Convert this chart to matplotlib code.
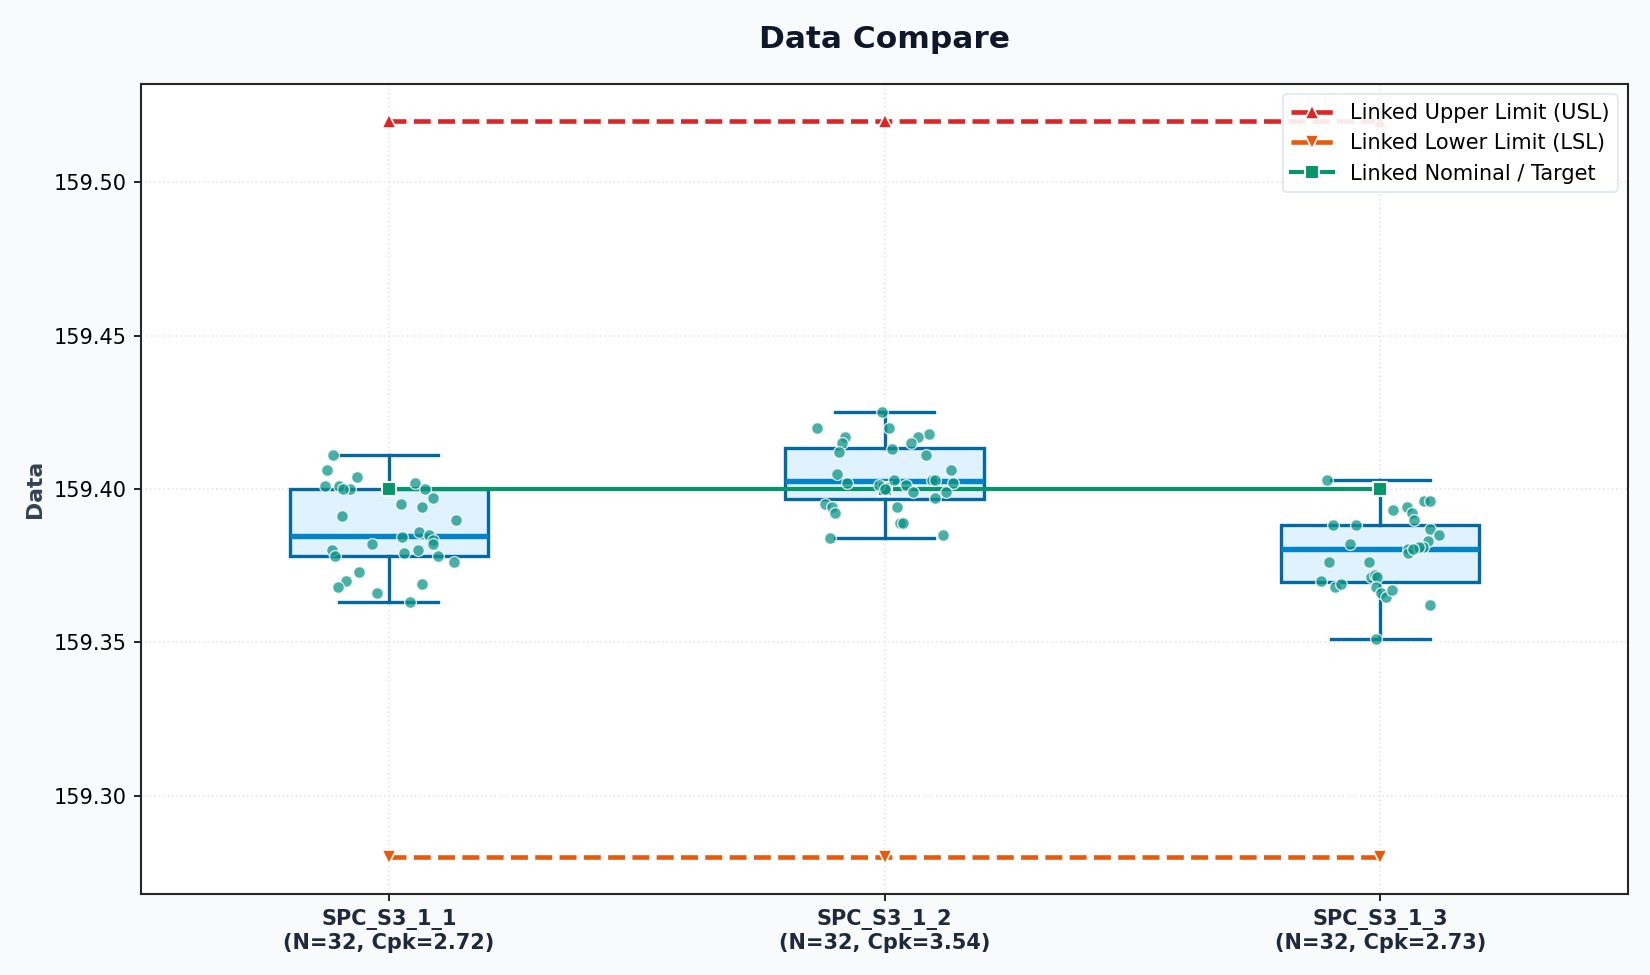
import matplotlib
matplotlib.use("Agg")
import matplotlib.pyplot as plt
import numpy as np

# group names and capability numbers shown under each box
groups = ["SPC_S3_1_1", "SPC_S3_1_2", "SPC_S3_1_3"]
cpk = [2.72, 3.54, 2.73]

usl = [159.52, 159.52, 159.52]
lsl = [159.28, 159.28, 159.28]
nominal = [159.40, 159.40, 159.40]

vals_1 = [159.4111, 159.4061, 159.4038, 159.4010, 159.4010, 159.3999, 159.4000, 159.4021,
          159.4000, 159.3971, 159.3951, 159.3941, 159.3911, 159.3899, 159.3860, 159.3850,
          159.3842, 159.3834, 159.3821, 159.3821, 159.3801, 159.3782, 159.3792, 159.3800,
          159.3782, 159.3762, 159.3729, 159.3700, 159.3680, 159.3691, 159.3661, 159.3632]
jit_1 = [-0.113, -0.125, -0.064, -0.129, -0.100, -0.078, -0.092, 0.053,
         0.073, 0.088, 0.025, 0.067, -0.094, 0.136, 0.061, 0.080,
         0.027, 0.088, 0.088, -0.034, -0.115, -0.108, 0.031, 0.059,
         0.100, 0.132, -0.060, -0.086, -0.103, 0.067, -0.024, 0.043]

vals_2 = [159.4250, 159.4199, 159.4199, 159.4169, 159.4150, 159.4120, 159.4179, 159.4169,
          159.4150, 159.4130, 159.4111, 159.4062, 159.4048, 159.4021, 159.4031, 159.4013,
          159.4000, 159.4012, 159.4029, 159.4029, 159.4021, 159.3990, 159.3990, 159.3971,
          159.3951, 159.3940, 159.3923, 159.3942, 159.3889, 159.3889, 159.3840, 159.3849]
jit_2 = [-0.005, -0.137, 0.009, -0.080, -0.086, -0.092, 0.089, 0.067,
         0.053, 0.016, 0.083, 0.134, -0.096, -0.075, 0.019, -0.012,
         0.000, 0.043, 0.095, 0.102, 0.138, 0.057, 0.123, 0.101,
         -0.121, -0.106, -0.099, 0.026, 0.031, 0.038, -0.111, 0.118]

vals_3 = [159.4029, 159.3961, 159.3961, 159.3931, 159.3941, 159.3921, 159.3898, 159.3883,
          159.3883, 159.3869, 159.3849, 159.3832, 159.3812, 159.3812, 159.3805, 159.3793,
          159.3806, 159.3820, 159.3761, 159.3761, 159.3700, 159.3682, 159.3690, 159.3713,
          159.3720, 159.3713, 159.3682, 159.3662, 159.3649, 159.3671, 159.3622, 159.3511]
jit_3 = [-0.107, 0.088, 0.101, 0.026, 0.054, 0.065, 0.068, -0.095,
         -0.049, 0.101, 0.118, 0.097, 0.086, 0.078, 0.056, 0.056,
         0.066, -0.061, -0.103, -0.023, -0.120, -0.092, -0.079, -0.019,
         -0.011, -0.006, -0.009, 0.001, 0.011, 0.023, 0.101, -0.008]

all_vals = [vals_1, vals_2, vals_3]
all_jit = [jit_1, jit_2, jit_3]
pos = np.arange(len(groups))

fig = plt.figure(figsize=(11, 6.5), dpi=150, facecolor="#f8fafc")
ax = fig.add_axes([0.0855, 0.0831, 0.9012, 0.8307])
ax.set_facecolor("white")

bp = ax.boxplot(all_vals, positions=pos, widths=0.4, patch_artist=True,
                showfliers=False, zorder=2,
                boxprops=dict(facecolor="#e0f2fe", edgecolor="#0369a1", linewidth=1.6),
                medianprops=dict(color="#0284c7", linewidth=2.6),
                whiskerprops=dict(color="#0369a1", linewidth=1.6),
                capprops=dict(color="#0369a1", linewidth=1.6))

for i in range(len(groups)):
    xs = pos[i] + np.array(all_jit[i])
    ax.scatter(xs, all_vals[i], s=32, color="#0d9488", alpha=0.75,
               edgecolors="white", linewidths=0.7, zorder=4)

ax.plot(pos, usl, color="#dc2626", linestyle="--", linewidth=2.2, marker="^",
        markersize=7, markeredgecolor="white", markeredgewidth=0.8,
        label="Linked Upper Limit (USL)", zorder=3)
ax.plot(pos, lsl, color="#ea580c", linestyle="--", linewidth=2.2, marker="v",
        markersize=7, markeredgecolor="white", markeredgewidth=0.8,
        label="Linked Lower Limit (LSL)", zorder=3)
ax.plot(pos, nominal, color="#059669", linestyle="-", linewidth=2.0, marker="s",
        markersize=6.5, markeredgecolor="white", markeredgewidth=1.0,
        label="Linked Nominal / Target", zorder=3)

ax.set_xlim(-0.5, 2.5)
ax.set_xticks(pos)
ax.set_xticklabels([g + "\n(N=32, Cpk=%.2f)" % c for g, c in zip(groups, cpk)],
                   fontsize=10, fontweight="bold", color="#1e293b")
ax.yaxis.set_major_formatter(matplotlib.ticker.FormatStrFormatter("%.2f"))
ax.tick_params(axis="y", labelsize=10)
ax.set_ylabel("Data", fontsize=10.5, fontweight="bold", color="#334155")
ax.set_title("Data Compare", fontsize=15, fontweight="bold", color="#0f172a", pad=17.5)

ax.grid(True, linestyle=":", color="#e2e8f0", linewidth=0.8)
ax.set_axisbelow(True)
for sp in ax.spines.values():
    sp.set_color("#262626")
    sp.set_linewidth(1.0)

leg = ax.legend(loc="upper right", fontsize=10, frameon=True, framealpha=0.9)
leg.get_frame().set_edgecolor("#e2e8f0")

fig.savefig("out.png", dpi=150, facecolor=fig.get_facecolor())
